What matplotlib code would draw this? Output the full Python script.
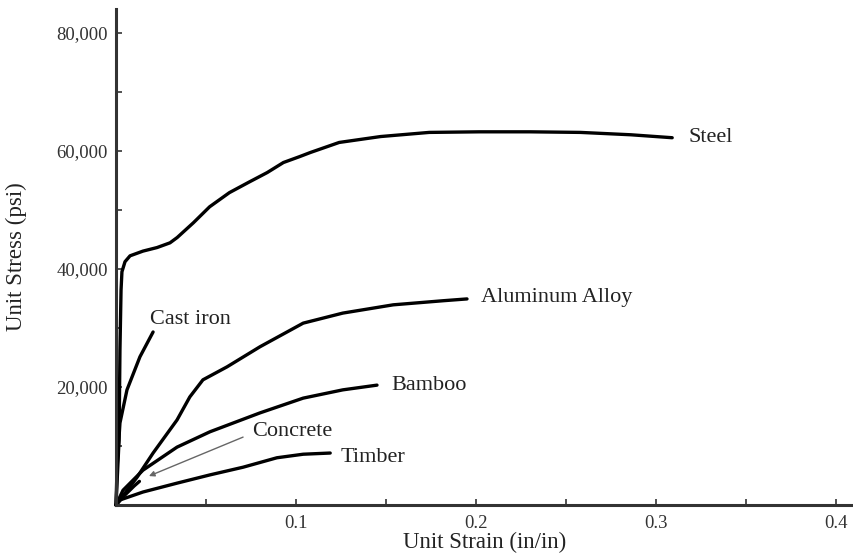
import matplotlib
matplotlib.use("Agg")
import matplotlib.pyplot as plt
from matplotlib.ticker import MultipleLocator, FixedLocator, FixedFormatter

# ---- data (strain in/in, stress psi) ----
steel_x = [0, 0.0017, 0.0022, 0.0028, 0.0033, 0.005, 0.0078, 0.015, 0.0228, 0.030, 0.034,
           0.043, 0.052, 0.063, 0.074, 0.084, 0.093, 0.102, 0.108, 0.124, 0.147, 0.174,
           0.202, 0.230, 0.258, 0.286, 0.309]
steel_y = [0, 11000, 26300, 36400, 39500, 41200, 42200, 43000, 43600, 44400, 45300,
           47800, 50500, 52900, 54700, 56300, 58000, 59000, 59700, 61400, 62400, 63100,
           63200, 63200, 63100, 62700, 62200]

alu_x = [0, 0.0117, 0.0206, 0.0339, 0.041, 0.0483, 0.0617, 0.080, 0.104, 0.126, 0.154, 0.182, 0.195]
alu_y = [0, 4700, 8800, 14400, 18300, 21200, 23400, 26800, 30800, 32500, 33900, 34600, 34900]

bamboo_x = [0, 0.0039, 0.015, 0.0339, 0.0522, 0.080, 0.104, 0.126, 0.145]
bamboo_y = [0, 2500, 5900, 9800, 12400, 15600, 18100, 19500, 20300]

timber_x = [0, 0.0022, 0.015, 0.0339, 0.0522, 0.0706, 0.0894, 0.104, 0.119]
timber_y = [0, 850, 2200, 3700, 5100, 6400, 8000, 8600, 8800]

castiron_x = [0, 0.0006, 0.0022, 0.0061, 0.0133, 0.0206]
castiron_y = [0, 6400, 13900, 19500, 25100, 29300]

concrete_x = [0, 0.005, 0.010, 0.013]
concrete_y = [0, 1700, 3200, 4000]

x_ticks = [0.1, 0.2, 0.3, 0.4]
x_ticklabels = ["0.1", "0.2", "0.3", "0.4"]
y_ticks = [20000, 40000, 60000, 80000]
y_ticklabels = ["20,000", "40,000", "60,000", "80,000"]

labels = ["Steel", "Aluminum Alloy", "Bamboo", "Timber", "Cast iron", "Concrete"]
label_x = [0.318, 0.203, 0.153, 0.125, 0.019, 0.0756]
label_y = [62200, 35100, 20300, 8100, 31400, 12400]

# ---- figure ----
plt.rcParams['font.family'] = ['Liberation Serif', 'DejaVu Serif']
fig = plt.figure(figsize=(8.54, 5.56), dpi=100)
ax = fig.add_axes([116/854, 51/556, 1 - 116/854, (505 - 9)/556])

lw = 2.4
for xs, ys in [(steel_x, steel_y), (alu_x, alu_y), (bamboo_x, bamboo_y),
               (timber_x, timber_y), (castiron_x, castiron_y), (concrete_x, concrete_y)]:
    ax.plot(xs, ys, color="black", lw=lw, solid_joinstyle="round",
            solid_capstyle="round", clip_on=False)

for t, lx, ly in zip(labels, label_x, label_y):
    ax.text(lx, ly, t, fontsize=16, color="#222222", ha="left", va="center")

# concrete leader line
ax.annotate("", xy=(0.0183, 4900), xytext=(0.0706, 11500),
            arrowprops=dict(arrowstyle="-|>", color="#666666", lw=1.0,
                            mutation_scale=8, shrinkA=0, shrinkB=0))

ax.set_xlim(0, 0.41)
ax.set_ylim(0, 84000)

for s in ["top", "right"]:
    ax.spines[s].set_visible(False)
for s in ["left", "bottom"]:
    ax.spines[s].set_linewidth(2.2)
    ax.spines[s].set_color("#333333")

ax.xaxis.set_major_locator(FixedLocator(x_ticks))
ax.xaxis.set_major_formatter(FixedFormatter(x_ticklabels))
ax.yaxis.set_major_locator(FixedLocator(y_ticks))
ax.yaxis.set_major_formatter(FixedFormatter(y_ticklabels))
ax.xaxis.set_minor_locator(MultipleLocator(0.05))
ax.yaxis.set_minor_locator(MultipleLocator(10000))
ax.tick_params(which="both", direction="in", length=4, width=1.2, colors="#333333",
               labelsize=13.5, labelcolor="#333333")
ax.tick_params(axis="y", pad=6)
ax.tick_params(axis="x", pad=7)

ax.set_xlabel("Unit Strain (in/in)", fontsize=16.5, color="#222222", labelpad=0)
ax.set_ylabel("Unit Stress (psi)", fontsize=16.5, color="#222222")
ax.yaxis.set_label_coords(-0.12, 0.5)

fig.savefig("out.png", dpi=100)
